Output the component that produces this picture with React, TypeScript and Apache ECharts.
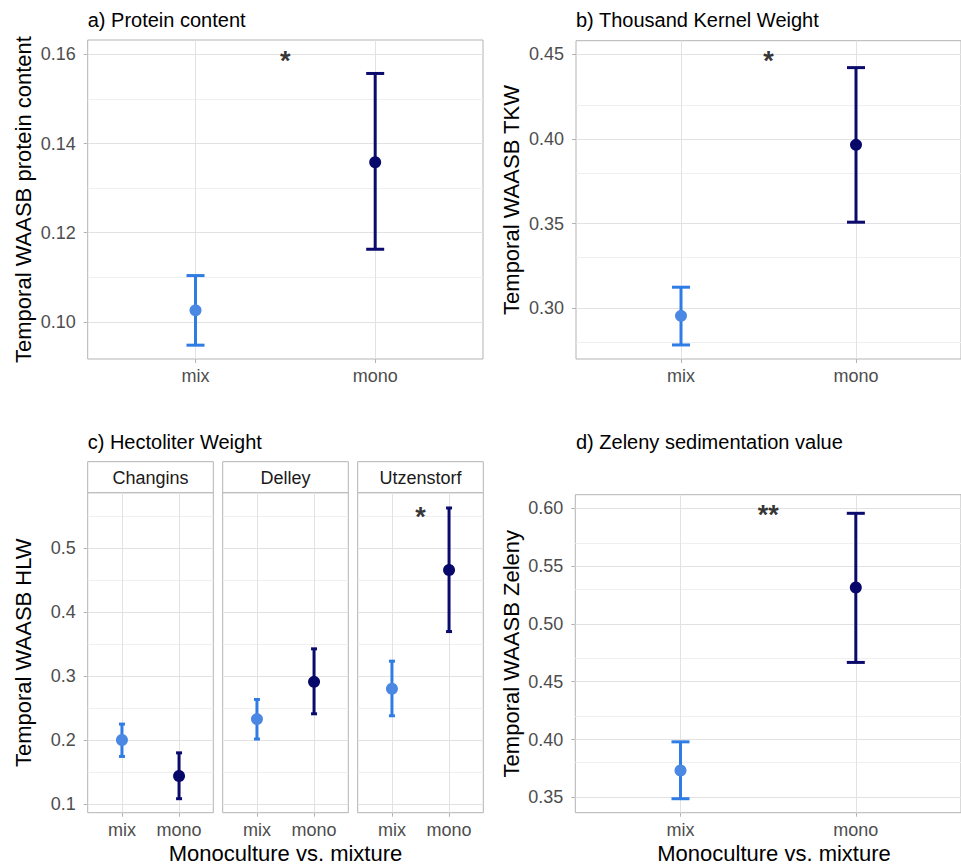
import React, { useEffect, useRef } from "react";
import * as echarts from "echarts";

// ---------- data ----------
const categories = ["mix", "mono"];
const catX = [1, 2];

const proteinMean = [0.1026, 0.1358];
const proteinLow = [0.0948, 0.1163];
const proteinHigh = [0.1104, 0.1557];
const proteinTicks = [0.1, 0.12, 0.14, 0.16];
const proteinMinor = [0.11, 0.13, 0.15];

const tkwMean = [0.2955, 0.3965];
const tkwLow = [0.2783, 0.3508];
const tkwHigh = [0.3124, 0.4421];
const tkwTicks = [0.3, 0.35, 0.4, 0.45];
const tkwMinor = [0.275, 0.325, 0.375, 0.425];

const hlwSites = ["Changins", "Delley", "Utzenstorf"];
const hlwMean = [[0.2, 0.1438], [0.2328, 0.2911], [0.2802, 0.4661]];
const hlwLow = [[0.1744, 0.1083], [0.2016, 0.2411], [0.238, 0.3697]];
const hlwHigh = [[0.225, 0.18], [0.2635, 0.3427], [0.3234, 0.563]];
const hlwTicks = [0.1, 0.2, 0.3, 0.4, 0.5];
const hlwMinor = [0.15, 0.25, 0.35, 0.45, 0.55];
const hlwSig = ["", "", "*"];

const zelMean = [0.3732, 0.5315];
const zelLow = [0.3488, 0.4667];
const zelHigh = [0.398, 0.5957];
const zelTicks = [0.35, 0.4, 0.45, 0.5, 0.55, 0.6];
const zelMinor = [0.375, 0.425, 0.475, 0.525, 0.575];

const sigX = 1.5;

// ---------- style ----------
const FONT = "'Liberation Sans', Arial, Helvetica, sans-serif";
const MIX_BAR = "#2e7ce4";
const MIX_PT = "#4a88e4";
const MONO_BAR = "#0b0b6e";
const MONO_PT = "#08086a";
const BORDER = "#b3b3b3";
const MAJOR = "#e2e2e2";
const MINOR = "#efefef";

type Panel = {
  grid: { left: number; top: number; width: number; height: number };
  yMin: number;
  yMax: number;
  major: number[];
  minor: number[];
  decimals: number;
  mean: number[];
  low: number[];
  high: number[];
  sigY?: number;
  sigText?: string;
  cap: number;
  showY: boolean;
};

const facetLefts = [87.7, 222.7, 357.7];
const facetWidth = 125.6;

const panels: Panel[] = [
  {
    grid: { left: 87.7, top: 40, width: 395.3, height: 319 },
    yMin: 0.0917, yMax: 0.1632, major: proteinTicks, minor: proteinMinor, decimals: 2,
    mean: proteinMean, low: proteinLow, high: proteinHigh, sigY: 0.1585, sigText: "*", cap: 9, showY: true,
  },
  {
    grid: { left: 576, top: 40.7, width: 398, height: 318.3 },
    yMin: 0.270, yMax: 0.458, major: tkwTicks, minor: tkwMinor, decimals: 2,
    mean: tkwMean, low: tkwLow, high: tkwHigh, sigY: 0.446, sigText: "*", cap: 9, showY: true,
  },
  ...hlwSites.map((_, i) => ({
    grid: { left: facetLefts[i], top: 492.7, width: facetWidth, height: 320 },
    yMin: 0.0864, yMax: 0.5869, major: hlwTicks, minor: hlwMinor, decimals: 1,
    mean: hlwMean[i], low: hlwLow[i], high: hlwHigh[i],
    sigY: hlwSig[i] ? 0.549 : undefined, sigText: hlwSig[i], cap: 3, showY: i === 0,
  })),
  {
    grid: { left: 575.3, top: 494.7, width: 398, height: 318 },
    yMin: 0.3367, yMax: 0.6118, major: zelTicks, minor: zelMinor, decimals: 2,
    mean: zelMean, low: zelLow, high: zelHigh, sigY: 0.5945, sigText: "**", cap: 9, showY: true,
  },
];

function buildOption() {
  const grids: any[] = [];
  const xAxes: any[] = [];
  const yAxes: any[] = [];
  const series: any[] = [];

  panels.forEach((p, i) => {
    grids.push({
      ...p.grid,
      show: true,
      borderColor: BORDER,
      borderWidth: 1,
      backgroundColor: "transparent",
      containLabel: false,
    });
    xAxes.push({
      type: "value",
      gridIndex: i,
      min: 0.4,
      max: 2.6,
      axisLine: { show: false },
      splitLine: { show: false },
      axisTick: { show: true, customValues: catX, length: 4, lineStyle: { color: BORDER } },
      axisLabel: {
        customValues: catX,
        formatter: (v: number) => categories[Math.round(v) - 1] ?? "",
        fontSize: 18,
        color: "#4d4d4d",
        margin: 8,
        fontFamily: FONT,
      },
    });
    yAxes.push({
      type: "value",
      gridIndex: i,
      min: p.yMin,
      max: p.yMax,
      axisLine: { show: false },
      splitLine: { show: false },
      axisTick: { show: p.showY, customValues: p.major, length: 4, lineStyle: { color: BORDER } },
      axisLabel: {
        show: p.showY,
        customValues: p.major,
        formatter: (v: number) => v.toFixed(p.decimals),
        fontSize: 18,
        color: "#4d4d4d",
        margin: 12,
        fontFamily: FONT,
      },
    });

    const pts = catX.map((x, k) => [x, p.mean[k]]);
    // grid lines
    series.push({
      type: "line",
      xAxisIndex: i,
      yAxisIndex: i,
      data: pts,
      showSymbol: false,
      symbol: "none",
      lineStyle: { opacity: 0, width: 0 },
      silent: true,
      z: 1,
      markLine: {
        z: 1,
        silent: true,
        symbol: ["none", "none"],
        label: { show: false },
        animation: false,
        lineStyle: { type: "solid" },
        data: [
          ...p.minor.map((v) => ({ yAxis: v, lineStyle: { color: MINOR, width: 1, type: "solid" } })),
          ...p.major.map((v) => ({ yAxis: v, lineStyle: { color: MAJOR, width: 1, type: "solid" } })),
          ...catX.map((v) => ({ xAxis: v, lineStyle: { color: MAJOR, width: 1, type: "solid" } })),
        ],
      },
    });
    // error bars
    const cap = p.cap;
    series.push({
      type: "custom",
      xAxisIndex: i,
      yAxisIndex: i,
      z: 3,
      silent: true,
      data: catX.map((x, k) => [x, p.low[k], p.high[k]]),
      encode: { x: 0, y: [1, 2] },
      renderItem: (_params: any, api: any) => {
        const x = api.value(0);
        const lo = api.coord([x, api.value(1)]);
        const hi = api.coord([x, api.value(2)]);
        const color = x < 1.5 ? MIX_BAR : MONO_BAR;
        const st = { stroke: color, lineWidth: 3 };
        return {
          type: "group",
          children: [
            { type: "line", shape: { x1: lo[0], y1: lo[1], x2: hi[0], y2: hi[1] }, style: st },
            { type: "line", shape: { x1: lo[0] - cap, y1: lo[1], x2: lo[0] + cap, y2: lo[1] }, style: st },
            { type: "line", shape: { x1: hi[0] - cap, y1: hi[1], x2: hi[0] + cap, y2: hi[1] }, style: st },
          ],
        };
      },
    });
    // points
    series.push({
      type: "scatter",
      xAxisIndex: i,
      yAxisIndex: i,
      z: 4,
      silent: true,
      symbolSize: 12,
      data: pts.map((d, k) => ({ value: d, itemStyle: { color: k === 0 ? MIX_PT : MONO_PT, opacity: 1 } })),
    });
    // significance
    if (p.sigY !== undefined && p.sigText) {
      series.push({
        type: "scatter",
        xAxisIndex: i,
        yAxisIndex: i,
        z: 5,
        silent: true,
        symbolSize: 1,
        itemStyle: { color: "transparent" },
        data: [[sigX, p.sigY]],
        label: {
          show: true,
          position: "inside",
          formatter: p.sigText,
          fontSize: 27,
          fontWeight: "bold",
          color: "#000000",
          textBorderWidth: 0,
          fontFamily: FONT,
        },
      });
    }
  });

  const titleStyle = (text: string, x: number, y: number, size = 20, color = "#000") => ({
    type: "text",
    x,
    y,
    style: { text, fontSize: size, fill: color, fontFamily: FONT, textAlign: "left", textVerticalAlign: "middle" },
  });
  const centered = (text: string, x: number, y: number, size: number, rot = 0, color = "#000") => ({
    type: "text",
    x,
    y,
    rotation: rot,
    style: { text, fontSize: size, fill: color, fontFamily: FONT, textAlign: "center", textVerticalAlign: "middle" },
  });

  const graphic: any[] = [
    titleStyle("a) Protein content", 87.7, 20),
    titleStyle("b) Thousand Kernel Weight", 576, 20),
    titleStyle("c) Hectoliter Weight", 87.7, 441.7),
    titleStyle("d) Zeleny sedimentation value", 576, 441.7),
    centered("Temporal WAASB protein content", 23, 199.5, 22, Math.PI / 2),
    centered("Temporal WAASB TKW", 511.7, 200, 22, Math.PI / 2),
    centered("Temporal WAASB HLW", 23, 652.7, 22, Math.PI / 2),
    centered("Temporal WAASB Zeleny", 511.7, 653.7, 22, Math.PI / 2),
    centered("Monoculture vs. mixture", 285.5, 853.3, 22),
    centered("Monoculture vs. mixture", 774, 853.3, 22),
  ];
  hlwSites.forEach((s, i) => {
    graphic.push({
      type: "rect",
      shape: { x: facetLefts[i], y: 461.7, width: facetWidth, height: 31 },
      style: { fill: "#ffffff", stroke: BORDER, lineWidth: 1 },
    });
    graphic.push(centered(s, facetLefts[i] + facetWidth / 2, 477.5, 18, 0, "#1a1a1a"));
  });

  return {
    animation: false,
    backgroundColor: "#ffffff",
    textStyle: { fontFamily: FONT },
    grid: grids,
    xAxis: xAxes,
    yAxis: yAxes,
    series,
    graphic,
  };
}

export default function App() {
  const ref = useRef<HTMLDivElement>(null);
  useEffect(() => {
    if (!ref.current) return;
    const chart = echarts.init(ref.current, undefined, { renderer: "svg" });
    chart.setOption(buildOption() as any);
    return () => chart.dispose();
  }, []);
  return (
    <div
      ref={ref}
      style={{ position: "fixed", left: 0, top: 0, width: 961, height: 866, background: "#fff" }}
    />
  );
}
